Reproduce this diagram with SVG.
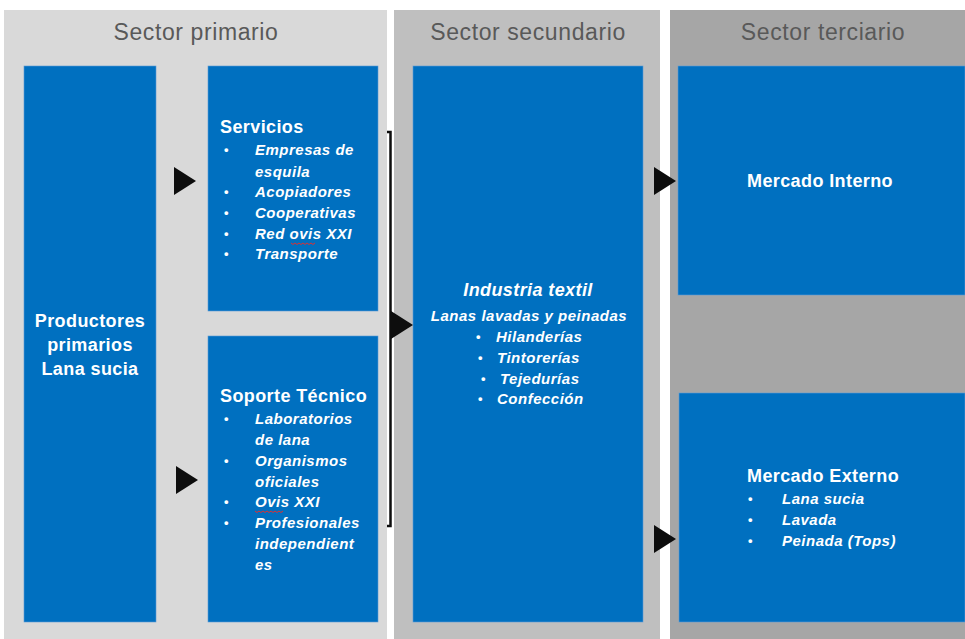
<svg xmlns="http://www.w3.org/2000/svg" width="965" height="639" viewBox="0 0 965 639">
<style>
.title{font-family:"Liberation Sans",Arial,sans-serif;font-size:23px;letter-spacing:0.6px;fill:#595959;text-anchor:middle}
.box{fill:#0070c0;stroke:#5b9bd5;stroke-width:0.6}
.h{font-family:"Liberation Sans",Arial,sans-serif;font-size:18px;letter-spacing:0.4px;font-weight:bold;fill:#fff}
.i{font-family:"Liberation Sans",Arial,sans-serif;font-size:15px;letter-spacing:0.5px;font-weight:bold;font-style:italic;fill:#fff}
.b{font-family:"Liberation Sans",Arial,sans-serif;font-size:13px;font-weight:bold;fill:#fff}
.arr{fill:#0d0d0d}
.sq{fill:none;stroke:#e03030;stroke-width:1}
</style>
<rect width="965" height="639" fill="#fff"/>
<g id="panels">
<rect x="4" y="10" width="383" height="629" fill="#d9d9d9"/>
<rect x="394" y="10" width="266" height="629" fill="#bfbfbf"/>
<rect x="670" y="10" width="295" height="629" fill="#a6a6a6"/>
<text class="title" x="196" y="40">Sector primario</text>
<text class="title" x="528" y="40">Sector secundario</text>
<text class="title" x="823" y="40">Sector terciario</text>
</g>
<g id="productores">
<rect class="box" x="24" y="66" width="132" height="556"/>
<text class="h" x="90" y="327" text-anchor="middle">Productores</text>
<text class="h" x="90" y="351" text-anchor="middle">primarios</text>
<text class="h" x="90" y="375" text-anchor="middle">Lana sucia</text>
</g>
<g id="servicios">
<rect class="box" x="208" y="66" width="170" height="245"/>
<text class="h" x="220" y="133">Servicios</text>
<text class="b" x="224" y="154">•</text><text class="i" x="255" y="155">Empresas de</text>
<text class="i" x="255" y="177">esquila</text>
<text class="b" x="224" y="196">•</text><text class="i" x="255" y="197">Acopiadores</text>
<text class="b" x="224" y="217">•</text><text class="i" x="255" y="218">Cooperativas</text>
<text class="b" x="224" y="238">•</text><text class="i" x="255" y="239">Red ovis XXI</text>
<path class="sq" d="M291 243 l2 1.5 l2 -1.5 l2 1.5 l2 -1.5 l2 1.5 l2 -1.5 l2 1.5 l2 -1.5 l2 1.5 l2 -1.5 l2 1.5 l2 -1.5"/>
<text class="b" x="224" y="258">•</text><text class="i" x="255" y="259">Transporte</text>
</g>
<g id="soporte">
<rect class="box" x="208" y="336" width="170" height="286"/>
<text class="h" x="220" y="402">Soporte Técnico</text>
<text class="b" x="224" y="423">•</text><text class="i" x="255" y="424">Laboratorios</text>
<text class="i" x="255" y="445">de lana</text>
<text class="b" x="224" y="465">•</text><text class="i" x="255" y="466">Organismos</text>
<text class="i" x="255" y="487">oficiales</text>
<text class="b" x="224" y="506">•</text><text class="i" x="255" y="507">Ovis XXI</text>
<path class="sq" d="M255 511 l2 1.5 l2 -1.5 l2 1.5 l2 -1.5 l2 1.5 l2 -1.5 l2 1.5 l2 -1.5 l2 1.5 l2 -1.5 l2 1.5 l2 -1.5 l2 1.5 l2 -1.5"/>
<text class="b" x="224" y="527">•</text><text class="i" x="255" y="528">Profesionales</text>
<text class="i" x="255" y="549">independient</text>
<text class="i" x="255" y="570">es</text>
</g>
<g id="industria">
<rect class="box" x="413" y="66" width="230" height="556"/>
<text class="h" x="528" y="296" text-anchor="middle" font-style="italic" font-size="19">Industria textil</text>
<text class="i" x="529" y="321" text-anchor="middle">Lanas lavadas  y peinadas</text>
<text class="b" x="476" y="341">•</text><text class="i" x="496" y="342">Hilanderías</text>
<text class="b" x="478" y="362">•</text><text class="i" x="497" y="363">Tintorerías</text>
<text class="b" x="481" y="383">•</text><text class="i" x="500" y="384">Tejedurías</text>
<text class="b" x="478" y="403">•</text><text class="i" x="497" y="404">Confección</text>
</g>
<g id="mercado-interno">
<rect class="box" x="678" y="66" width="287" height="229"/>
<text class="h" x="747" y="187">Mercado Interno</text>
</g>
<g id="mercado-externo">
<rect class="box" x="679" y="393" width="286" height="229"/>
<text class="h" x="747" y="482">Mercado Externo</text>
<text class="b" x="748" y="503">•</text><text class="i" x="782" y="504">Lana sucia</text>
<text class="b" x="748" y="524">•</text><text class="i" x="782" y="525">Lavada</text>
<text class="b" x="748" y="545">•</text><text class="i" x="782" y="546">Peinada (Tops)</text>
</g>
<g id="connectors">
<path d="M387 132 H390.5 V526 H387" fill="none" stroke="#0d0d0d" stroke-width="2.5"/>
<polygon class="arr" points="174,167 196,181 174,195"/>
<polygon class="arr" points="176,466 198,480 176,494"/>
<polygon class="arr" points="391,311 413,325 391,339"/>
<polygon class="arr" points="654,167 676,181 654,195"/>
<polygon class="arr" points="654,525 676,539 654,553"/>
</g>
</svg>
